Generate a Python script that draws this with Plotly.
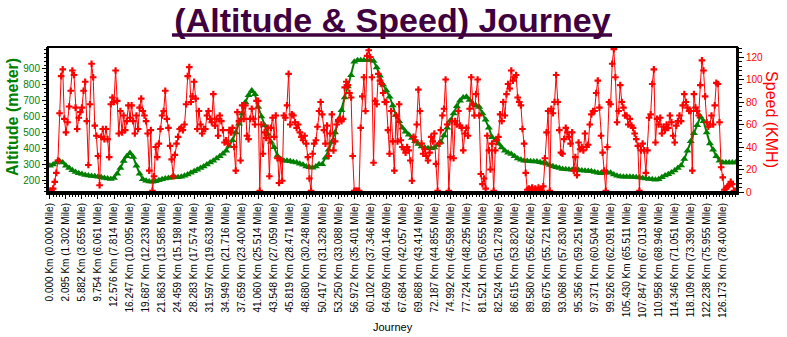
import plotly.graph_objects as go

# Distance markers shown along the journey axis (one label every 10 samples)
km = [0.000, 2.095, 5.882, 9.754, 12.576, 16.247, 19.687, 21.863, 24.459, 28.283,
      31.597, 34.949, 37.659, 41.060, 43.548, 45.819, 48.680, 50.417, 53.250, 56.972,
      60.102, 64.609, 67.684, 69.868, 72.187, 74.992, 77.724, 81.521, 82.524, 86.615,
      89.580, 89.675, 93.068, 95.356, 97.371, 99.926, 105.430, 107.847, 110.958, 114.346,
      118.109, 122.238, 126.173]
mile = [0.000, 1.302, 3.655, 6.061, 7.814, 10.095, 12.233, 13.585, 15.198, 17.574,
        19.633, 21.716, 23.400, 25.514, 27.059, 28.471, 30.248, 31.328, 33.088, 35.401,
        37.346, 40.146, 42.057, 43.414, 44.855, 46.598, 48.295, 50.655, 51.278, 53.820,
        55.662, 55.721, 57.830, 59.251, 60.504, 62.091, 65.511, 67.013, 68.946, 71.051,
        73.390, 75.955, 78.400]

# Speed (KMH), one value per sample
speed_kmh = [
    1, 1, 3, 9, 17, 28, 70, 103, 109, 65,
    53, 62, 76, 90, 108, 104, 75, 56, 66, 71,
    75, 90, 98, 63, 24, 78, 114, 102, 59, 50,
    32, 6, 49, 56, 47, 56, 47, 31, 78, 84,
    80, 108, 81, 52, 72, 53, 68, 55, 63, 77,
    66, 77, 63, 52, 68, 56, 75, 83, 72, 68,
    63, 52, 19, 55, 1, 14, 40, 31, 43, 56,
    68, 72, 90, 65, 57, 41, 29, 14, 33, 43,
    49, 56, 57, 55, 60, 78, 103, 111, 80, 85,
    98, 83, 56, 72, 60, 52, 56, 56, 68, 72,
    65, 62, 87, 59, 65, 50, 68, 63, 55, 44,
    46, 43, 55, 53, 57, 40, 19, 71, 63, 28,
    77, 65, 77, 50, 47, 65, 74, 65, 60, 81,
    81, 1, 60, 34, 53, 48, 57, 14, 57, 66,
    49, 68, 30, 8, 28, 10, 68, 66, 77, 105,
    60, 69, 68, 62, 57, 60, 53, 49, 46, 50,
    43, 31, 12, 1, 34, 43, 46, 58, 72, 80,
    69, 55, 43, 59, 32, 52, 69, 37, 45, 60,
    64, 65, 63, 65, 93, 98, 95, 88, 84, 32,
    1, 1, 1, 1, 57, 85, 102, 72, 121, 126,
    120, 102, 26, 81, 78, 105, 99, 96, 88, 80,
    80, 55, 34, 72, 45, 19, 68, 45, 78, 46,
    40, 38, 35, 40, 37, 28, 10, 49, 46, 60,
    91, 72, 43, 34, 38, 32, 28, 35, 49, 45,
    52, 25, 1, 43, 55, 68, 74, 100, 60, 1,
    31, 63, 30, 63, 60, 72, 59, 57, 37, 52,
    57, 50, 74, 102, 78, 68, 87, 100, 68, 16,
    7, 12, 3, 50, 37, 20, 43, 1, 37, 46,
    49, 69, 63, 80, 68, 87, 96, 92, 108, 99,
    102, 104, 84, 80, 77, 56, 43, 17, 2, 3,
    2, 4, 1, 3, 1, 4, 2, 1, 5, 30,
    53, 72, 1, 74, 70, 80, 104, 80, 55, 35,
    34, 47, 57, 53, 49, 43, 53, 19, 31, 15,
    44, 38, 40, 37, 52, 40, 42, 60, 69, 72,
    72, 88, 99, 75, 50, 35, 19, 1, 40, 80,
    78, 114, 127, 102, 62, 72, 95, 80, 75, 68,
    68, 60, 65, 59, 57, 52, 47, 41, 1, 37,
    43, 37, 17, 37, 66, 69, 96, 109, 44, 65,
    60, 66, 52, 58, 55, 60, 57, 68, 62, 50,
    44, 59, 63, 68, 63, 77, 87, 80, 75, 72,
    72, 19, 87, 75, 72, 68, 95, 117, 108, 85,
    62, 58, 60, 68, 60, 77, 97, 96, 62, 22,
    13, 2, 3, 5, 6, 9, 7, 1, 1,
]

# Altitude (meter), recorded on every other sample
altitude_m = [
    290, 298, 310, 320, 310,
    290, 275, 262, 250, 243,
    238, 232, 228, 225, 223,
    221, 217, 213, 209, 206,
    212, 240, 275, 320, 350,
    370, 345, 290, 240, 205,
    195, 190, 189, 192, 198,
    205, 210, 213, 216, 217,
    217, 220, 227, 235, 245,
    255, 265, 275, 285, 298,
    310, 322, 335, 350, 365,
    385, 415, 450, 500, 555,
    620, 690, 735, 765, 740,
    660, 600, 545, 490, 440,
    406, 353, 332, 322, 322,
    318, 314, 310, 303, 296,
    285, 280, 278, 285, 300,
    300, 340, 390, 440, 500,
    575, 640, 720, 790, 860,
    945, 955, 955, 955, 955,
    955, 950, 910, 858, 800,
    765, 725, 670, 610, 570,
    530, 505, 485, 465, 445,
    427, 412, 404, 400, 400,
    405, 420, 440, 480, 530,
    575, 620, 665, 700, 720,
    725, 705, 680, 670, 660,
    620, 580, 530, 470, 450,
    430, 405, 385, 372, 364,
    350, 335, 328, 322, 320,
    318, 317, 316, 312, 307,
    302, 294, 287, 280, 276,
    270, 268, 266, 265, 264,
    263, 260, 259, 257, 255,
    250, 245, 243, 245, 247,
    245, 235, 227, 222, 221,
    221, 220, 219, 217, 215,
    213, 210, 207, 204, 201,
    204, 218, 228, 236, 248,
    260, 275, 292, 332, 385,
    445, 495, 545, 600, 570,
    500, 430, 390, 350, 322,
    311, 311, 311, 311, 311,
]

SAMPLES_PER_LABEL = 10
speed_idx = list(range(len(speed_kmh)))
alt_idx = list(range(0, 2 * len(altitude_m), 2))
tick_idx = [i * SAMPLES_PER_LABEL for i in range(len(km))]
tick_text = [f"{k:.3f} Km ({m:.3f} Mile)" for k, m in zip(km, mile)]

FONT = 'Arial, "Liberation Sans", sans-serif'
GREEN = "#008000"
RED = "#ff0000"
TITLE_COLOR = "#400040"

fig = go.Figure()
fig.add_trace(go.Scatter(
    x=alt_idx, y=altitude_m, mode="lines+markers", name="Altitude",
    line=dict(color=GREEN, width=2),
    marker=dict(symbol="triangle-up", size=7, color=GREEN),
    yaxis="y",
))
fig.add_trace(go.Scatter(
    x=speed_idx, y=speed_kmh, mode="lines+markers", name="Speed",
    line=dict(color=RED, width=1),
    marker=dict(symbol="cross", size=5.5, color=RED),
    yaxis="y2",
))

fig.update_layout(
    width=787, height=337,
    margin=dict(l=48, r=50, t=47, b=145),
    paper_bgcolor="white", plot_bgcolor="white",
    showlegend=False,
    font=dict(family=FONT, color="black"),
    title=dict(
        text="<b>(Altitude & Speed) Journey</b>",
        font=dict(family=FONT, size=34, color=TITLE_COLOR),
        x=0.5, xanchor="center", xref="paper",
        y=1 - 20 / 337, yanchor="middle", yref="container",
    ),
    xaxis=dict(
        range=[-1.2, 428.9], automargin=False,
        tickmode="array", tickvals=tick_idx, ticktext=tick_text,
        tickangle=-90, tickfont=dict(family=FONT, size=10, color="black"),
        ticks="outside", ticklen=4, tickwidth=1, tickcolor="black",
        minor=dict(tickmode="linear", tick0=0, dtick=2, ticks="outside",
                   ticklen=2, tickcolor="black", showgrid=False),
        showline=True, linecolor="black", linewidth=3,
        showgrid=False, zeroline=False,
    ),
    yaxis=dict(
        range=[124.3, 1038.7], automargin=False,
        tickmode="array", tickvals=[200, 300, 400, 500, 600, 700, 800, 900],
        tickfont=dict(family=FONT, size=10, color=GREEN),
        ticks="outside", ticklen=4, tickcolor="black",
        minor=dict(tickmode="linear", tick0=0, dtick=25, ticks="outside",
                   ticklen=2, tickcolor="black", showgrid=False),
        showline=True, linecolor="black", linewidth=2,
        showgrid=False, zeroline=False,
    ),
    yaxis2=dict(
        overlaying="y", side="right", automargin=False,
        range=[0, 128.9], tickmode="linear", tick0=0, dtick=20,
        tickfont=dict(family=FONT, size=10, color=RED),
        ticks="outside", ticklen=5, tickcolor="black",
        minor=dict(tickmode="linear", tick0=0, dtick=4, ticks="outside",
                   ticklen=3, tickcolor="black", showgrid=False),
        showline=True, linecolor="black", linewidth=2,
        showgrid=False, zeroline=False,
    ),
    shapes=[
        # plot frame
        dict(type="rect", xref="x domain", yref="y domain",
             x0=0, x1=1, y0=0, y1=1, line=dict(color="black", width=2),
             layer="above"),
        # heavy underline beneath the title
        dict(type="line", xref="paper", yref="paper",
             x0=0.180, x1=0.8186, y0=1.083, y1=1.083,
             line=dict(color=TITLE_COLOR, width=3.5)),
    ],
    annotations=[
        dict(text="Journey", xref="paper", yref="paper", x=0.5, y=-0.931,
             xanchor="center", yanchor="middle", showarrow=False,
             font=dict(family=FONT, size=11, color="black")),
        dict(text="<b>Altitude (meter)</b>", xref="paper", yref="paper",
             x=-0.0522, y=0.517, xanchor="center", yanchor="middle",
             textangle=-90, showarrow=False,
             font=dict(family=FONT, size=16, color=GREEN)),
        dict(text="Speed (KMH)", xref="paper", yref="paper",
             x=1.0508, y=0.503, xanchor="center", yanchor="middle",
             textangle=90, showarrow=False,
             font=dict(family=FONT, size=16, color=RED)),
    ],
)

fig.write_html("out.html")
